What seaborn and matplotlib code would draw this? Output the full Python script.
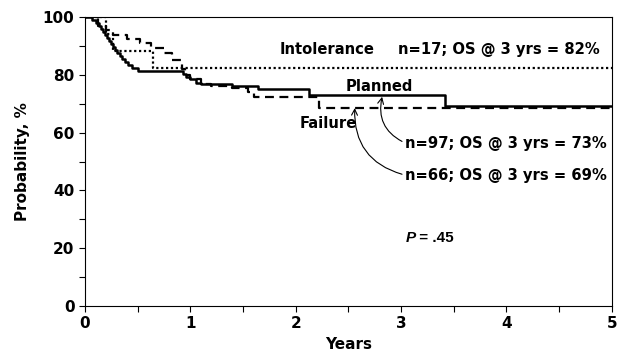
import matplotlib
matplotlib.use("Agg")
import matplotlib.pyplot as plt
import seaborn as sns
import pandas as pd
from matplotlib.ticker import MultipleLocator

# Kaplan-Meier step data (years, survival %)
planned_t = [0, 0.07, 0.10, 0.13, 0.15, 0.17, 0.19, 0.21, 0.23, 0.25, 0.27, 0.285, 0.30,
             0.33, 0.35, 0.38, 0.41, 0.445, 0.50, 0.93, 0.96, 1.00, 1.05, 1.10, 1.40,
             1.64, 2.13, 3.42, 5.0]
planned_s = [100, 99, 98, 96.9, 95.9, 94.8, 93.8, 92.8, 91.7, 90.7, 89.7, 88.6, 87.6,
             86.6, 85.5, 84.5, 83.5, 82.5, 81.2, 80.4, 79.4, 78.4, 77.3, 76.9, 76.3,
             75.0, 73.0, 69.3, 69.3]

failure_t = [0, 0.12, 0.20, 0.27, 0.40, 0.52, 0.63, 0.75, 0.83, 0.92, 0.95, 1.00, 1.10,
             1.20, 1.40, 1.55, 1.60, 2.22, 5.0]
failure_s = [100, 97.0, 95.5, 93.9, 92.4, 91.0, 89.3, 87.5, 85.0, 82.0, 80.0, 78.5, 77.0,
             76.0, 75.5, 74.2, 72.5, 68.6, 68.6]

intol_t = [0, 0.20, 0.27, 0.65, 5.0]
intol_s = [100, 94.1, 88.2, 82.4, 82.4]

x_ticks = [0, 1, 2, 3, 4, 5]
y_ticks = [0, 20, 40, 60, 80, 100]

sns.set_style("ticks")
plt.rcParams['font.family'] = ['DejaVu Sans']
plt.rcParams['text.color'] = 'black'
plt.rcParams['axes.labelcolor'] = 'black'
plt.rcParams['xtick.color'] = 'black'
plt.rcParams['ytick.color'] = 'black'

fig = plt.figure(figsize=(6.18, 3.51), dpi=100)
ax = fig.add_axes([0.1375, 0.128, 0.8525, 0.8235])

sns.lineplot(x=planned_t, y=planned_s, ax=ax, drawstyle='steps-post', color='black',
             linewidth=1.8, linestyle='-', estimator=None, sort=False)
sns.lineplot(x=failure_t, y=failure_s, ax=ax, drawstyle='steps-post', color='black',
             linewidth=1.6, linestyle=(0, (4, 2.5)), estimator=None, sort=False)
sns.lineplot(x=intol_t, y=intol_s, ax=ax, drawstyle='steps-post', color='black',
             linewidth=1.6, linestyle=(0, (1, 1.2)), estimator=None, sort=False)

ax.set_xlim(0, 5)
ax.set_ylim(0, 100)
ax.set_xticks(x_ticks)
ax.set_yticks(y_ticks)
ax.xaxis.set_minor_locator(MultipleLocator(0.5))
ax.yaxis.set_minor_locator(MultipleLocator(10))
ax.tick_params(which='both', direction='out', length=4, width=0.8, color='black',
               labelcolor='black')
for lab in ax.get_xticklabels() + ax.get_yticklabels():
    lab.set_fontweight('bold')
    lab.set_fontsize(11)
for sp in ax.spines.values():
    sp.set_visible(True)
    sp.set_linewidth(0.8)
    sp.set_color('black')

ax.set_xlabel('Years', fontsize=11, fontweight='bold', labelpad=4)
ax.set_ylabel('Probability, %', fontsize=11, fontweight='bold', labelpad=9)

tk = dict(fontsize=10.6, fontweight='bold', va='center', ha='left', color='black')
ax.text(1.85, 88.6, 'Intolerance', **tk)
ax.text(2.97, 88.6, 'n=17; OS @ 3 yrs = 82%', **tk)
ax.text(2.47, 75.8, 'Planned', **tk)
ax.text(2.04, 63.3, 'Failure', **tk)

ap = dict(arrowstyle='->', color='black', lw=0.8,
          connectionstyle='arc3,rad=-0.4', shrinkA=0, shrinkB=0,
          relpos=(0, 0.5))
ax.annotate('n=97; OS @ 3 yrs = 73%', xy=(2.82, 72.4), xytext=(3.04, 56.4),
            arrowprops=ap, **tk)
ax.annotate('n=66; OS @ 3 yrs = 69%', xy=(2.56, 68.5), xytext=(3.04, 45.3),
            arrowprops=ap, **tk)

ax.text(3.04, 23.5, 'P', fontsize=11, fontweight='bold', fontstyle='italic',
        family='Liberation Sans', va='center', ha='left', color='black')
ax.text(3.13, 23.5, ' = .45', fontsize=11, fontweight='bold',
        family='Liberation Sans', va='center', ha='left', color='black')

fig.savefig('out.png', dpi=100)
